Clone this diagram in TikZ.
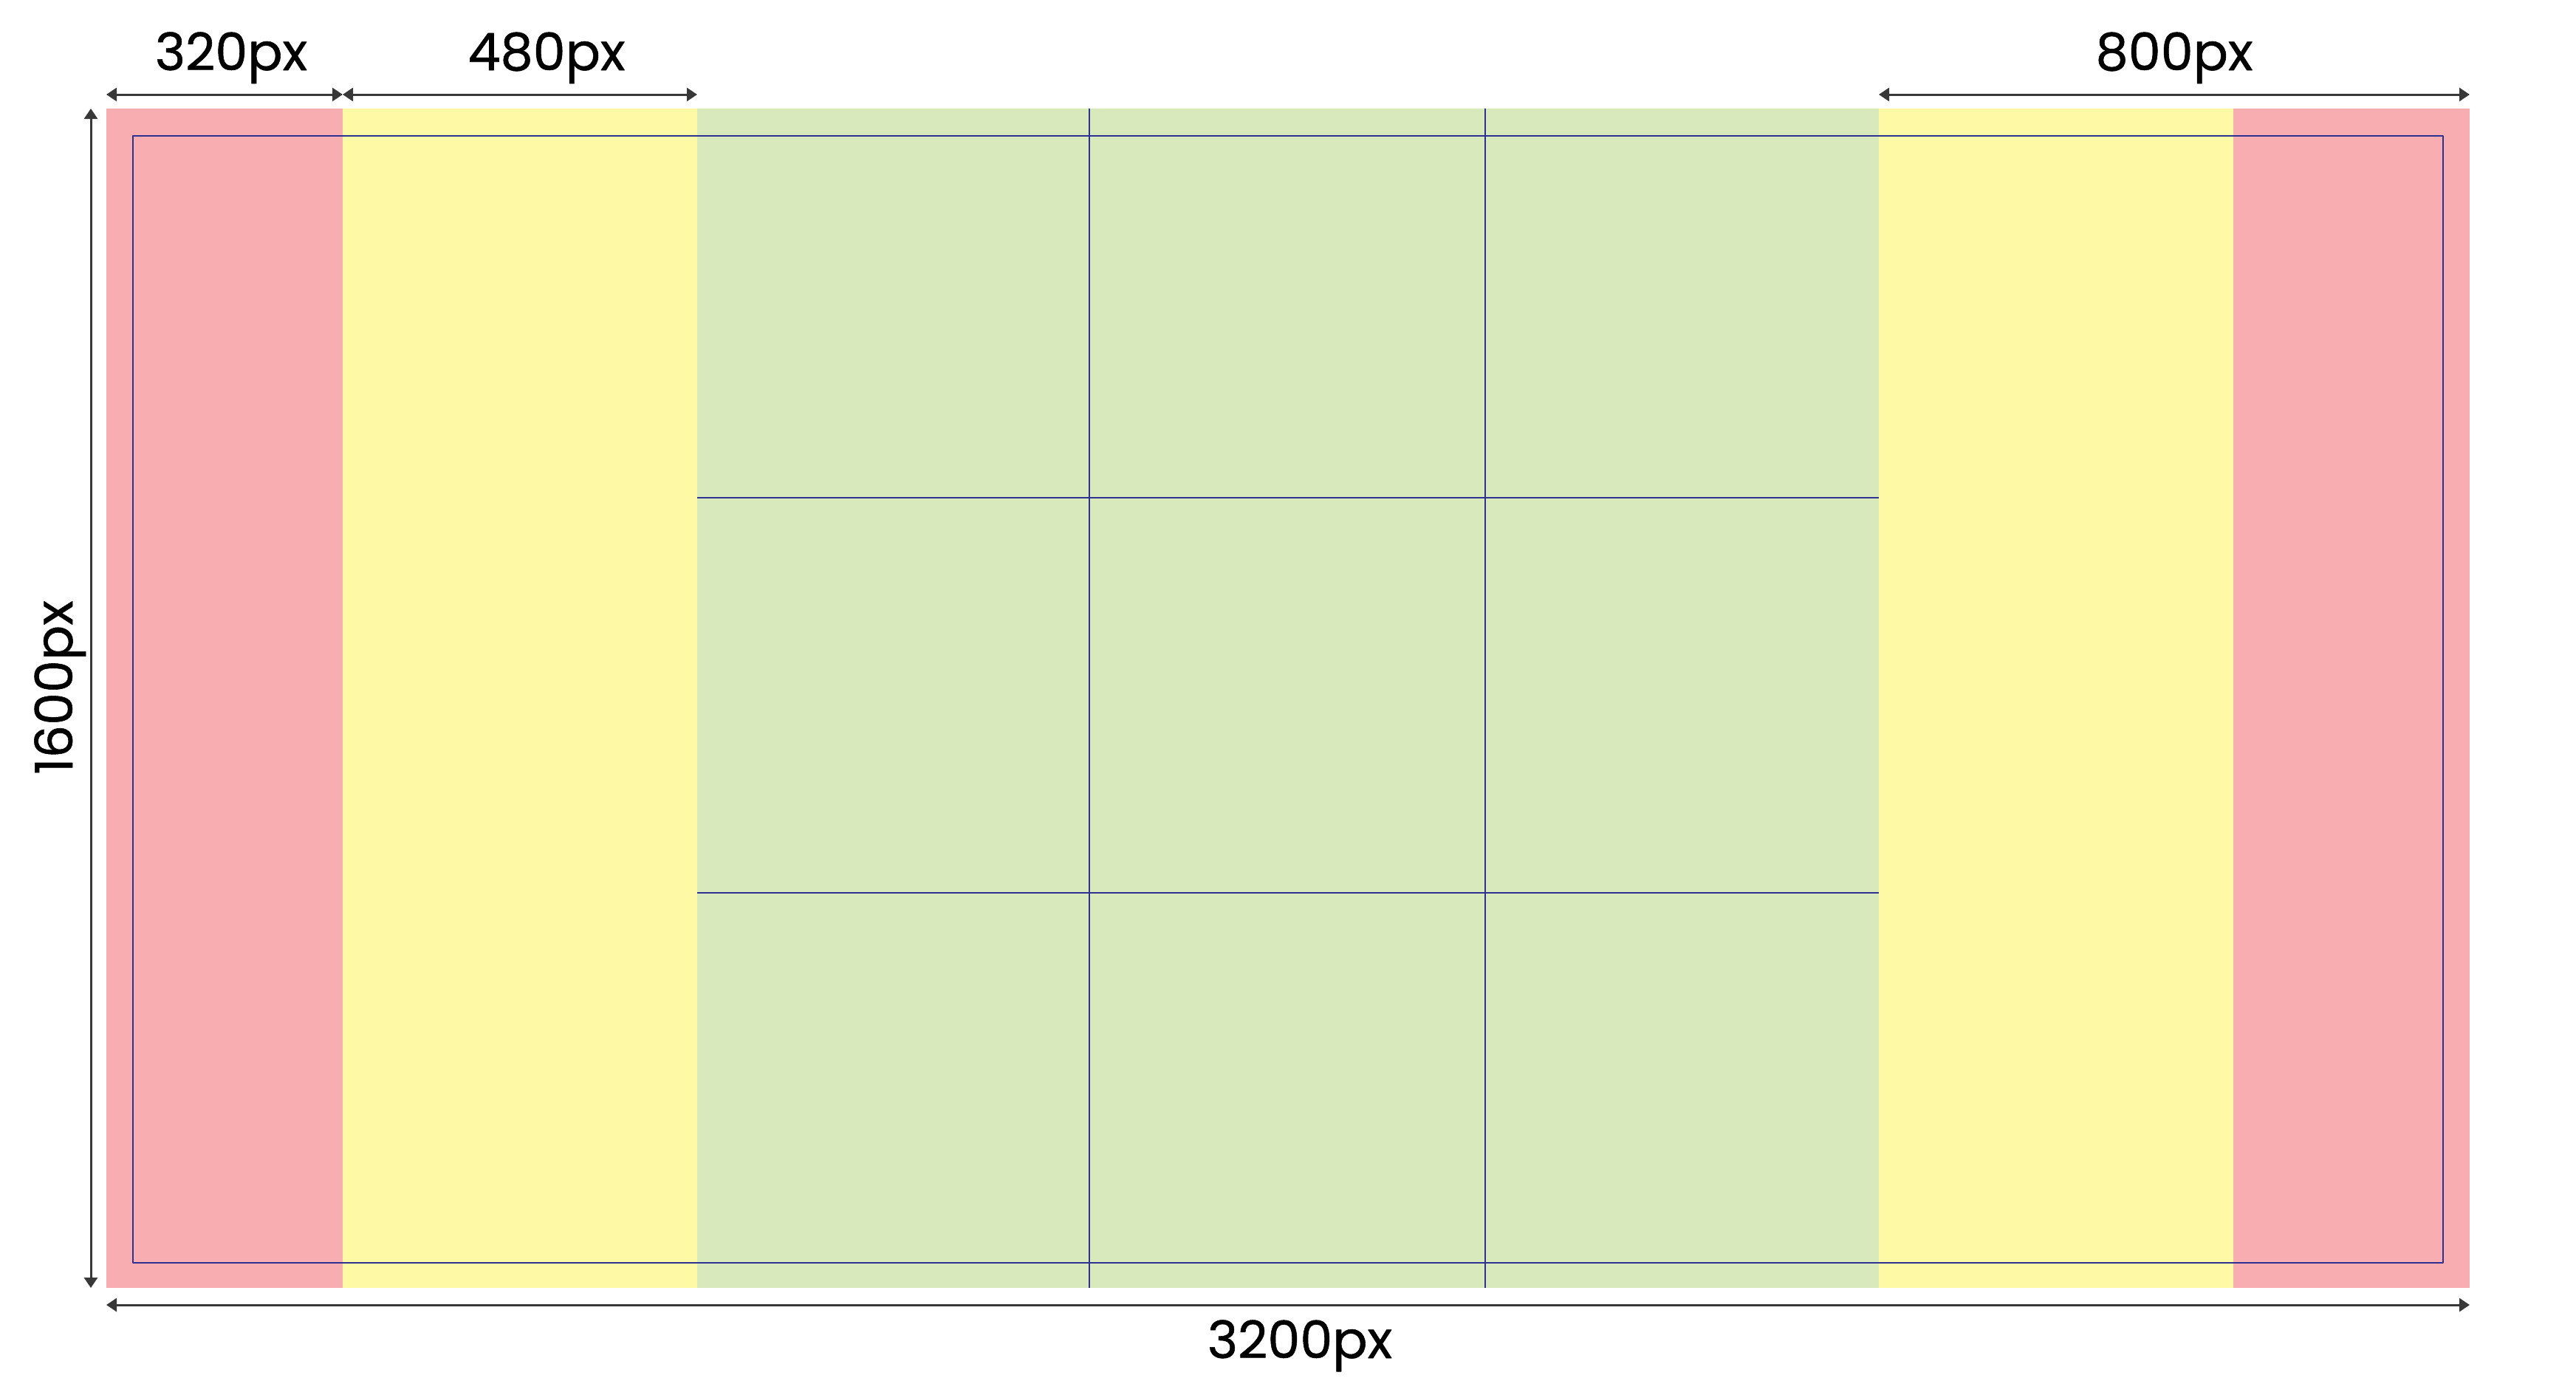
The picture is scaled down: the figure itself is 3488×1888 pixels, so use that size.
\documentclass[tikz,border=0pt]{standalone}
\usepackage{fontspec}
\setmainfont{Poppins}[FakeBold=0.8]
\usetikzlibrary{arrows.meta}
\definecolor{Rfill}{HTML}{F8ADB1}
\definecolor{Yfill}{HTML}{FEF9A5}
\definecolor{Gfill}{HTML}{D8EABC}
\definecolor{Bline}{HTML}{2E3192}
\definecolor{Dline}{HTML}{383838}

\begin{document}
\begin{tikzpicture}[x=1pt,y=-1pt,line join=round,
  dim/.style={Dline,line width=3pt,
    {Triangle[length=14pt,width=18pt]}-{Triangle[length=14pt,width=18pt]}},
  lbl/.style={inner sep=0pt,anchor=base,font=\fontsize{70}{70}\selectfont}]
\useasboundingbox (0,0) rectangle (3488,1888);
\def\yt{147}
\def\yb{1744}

% ---- the bands: red, yellow, green, yellow, red ----
\foreach \xa/\xb/\c in {144/464/Rfill, 464/944/Yfill, 944/2544/Gfill,
                        2544/3024/Yfill, 3024/3344/Rfill}{
  \fill[\c] (\xa,\yt) rectangle (\xb,\yb);}

% ---- the 3x3 grid over the green band ----
\foreach \x in {1475,2011}{
  \draw[Bline,line width=1.6pt] (\x,\yt) -- (\x,\yb);}
\foreach \y in {674,1209}{
  \draw[Bline,line width=1.6pt] (944,\y) -- (2544,\y);}

% ---- inner frame ----
\draw[Bline,line width=2pt] (180,184) rectangle (3308,1710);

% ---- end points of the dimension lines ----
\coordinate (ta) at (144,128);
\coordinate (tb) at (464,128);
\coordinate (tc) at (944,128);
\coordinate (td) at (2544,128);
\coordinate (te) at (3344,128);
\coordinate (ba) at (144,1767);
\coordinate (bb) at (3344,1767);
\coordinate (la) at (123,\yt);
\coordinate (lb) at (123,\yb);

\draw[dim] (ta) -- (tb);
\draw[dim] (tb) -- (tc);
\draw[dim] (td) -- (te);
\draw[dim] (ba) -- (bb);
\draw[dim] (la) -- (lb);

% ---- labels ----
\node[lbl] (w320) at (313,95) {320px};
\node[lbl] (w480) at (740,95) {480px};
\node[lbl] (w800) at (2944,95) {800px};
\node[lbl] (w3200) at (1760,1839) {3200px};
\node[lbl,rotate=90] (h1600) at (98,931) {1600px};
\end{tikzpicture}
\end{document}
